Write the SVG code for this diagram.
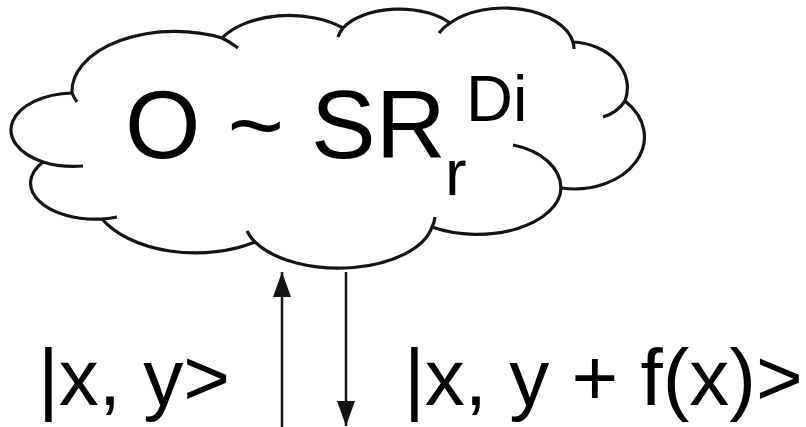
<svg xmlns="http://www.w3.org/2000/svg" width="806" height="427" viewBox="0 0 806 427">
  <style>
    .outline { fill: #ffffff; stroke: #141414; stroke-width: 3.2; stroke-linejoin: round; }
    .tail { fill: none; stroke: #141414; stroke-width: 3.2; stroke-linecap: butt; }
    .txt { font-family: "Liberation Sans", Arial, sans-serif; fill: #000000; }
    .conn { stroke: #141414; stroke-width: 2.5; fill: none; }
  </style>
  <defs>
    <marker id="ah" viewBox="0 0 25 18" refX="25" refY="9" markerWidth="25" markerHeight="18" markerUnits="userSpaceOnUse" orient="auto">
      <path d="M0,0 L25,9 L0,18 Z" fill="#141414"/>
    </marker>
  </defs>
  <rect width="806" height="427" fill="#ffffff"/>

  <g id="cloud">
    <path class="outline" d="M 72,93 A 103 60 0 0 1 222,38 A 77 44 0 0 1 343,28 A 64 36 0 0 1 450,23 A 70 41 0 0 1 573,42 A 58 46 0 0 1 625,101 A 70 52 0 0 1 561,188 A 84 47 0 0 1 432,227 A 95 50 0 0 1 255,242 A 105 62 0 0 1 102,219 A 65 36 0 0 1 43,162 A 64 37 0 0 1 72,93 Z"/>
    <path class="tail" d="M 72,93 A 103 60 0 0 0 77,102 M 222,38 A 103 60 0 0 1 238,48 M 343,28 A 64 36 0 0 0 338,37 M 450,23 A 70 41 0 0 0 439,33 M 573,42 A 70 41 0 0 1 574,49 M 625,101 A 40 40 0 0 1 603,117 M 561,188 A 66 45 0 0 0 513,145 M 432,227 A 95 50 0 0 0 435,217 M 255,242 A 95 50 0 0 1 247,231 M 102,219 A 65 36 0 0 0 117,217 M 43,162 A 64 37 0 0 0 83,166"/>
    <text class="txt" x="125" y="158" font-size="97">O ~ SR</text>
    <text class="txt" x="445" y="195" font-size="65">r</text>
    <text class="txt" x="466" y="121" font-size="65">Di</text>
  </g>

  <g id="input-label">
    <text class="txt" x="38" y="405" font-size="80">|x, y&gt;</text>
  </g>

  <g id="output-label">
    <text class="txt" x="404" y="405" font-size="80">|x, y + f(x)&gt;</text>
  </g>

  <g id="connectors">
    <line class="conn" x1="282" y1="427" x2="282" y2="272" marker-end="url(#ah)"/>
    <line class="conn" x1="346" y1="272" x2="346" y2="426" marker-end="url(#ah)"/>
  </g>
</svg>
